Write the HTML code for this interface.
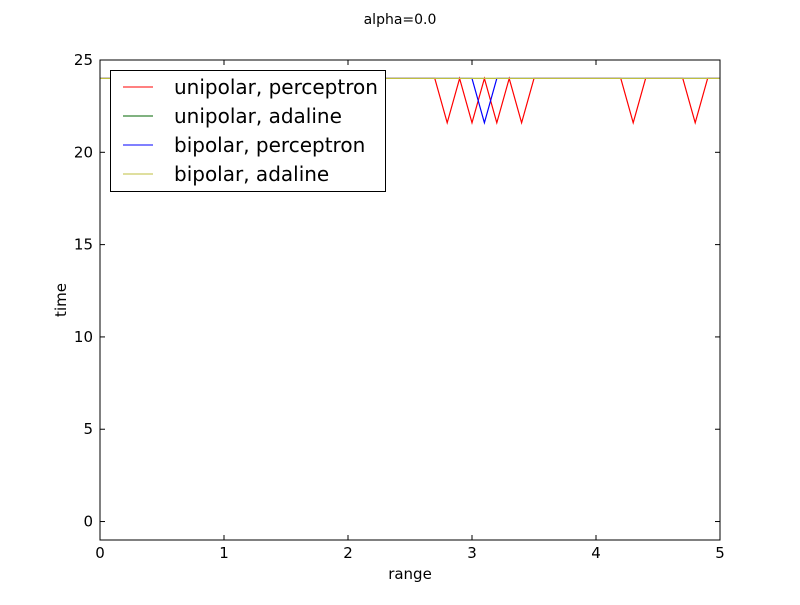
<!DOCTYPE html>
<html><head><meta charset="utf-8"><style>
body{margin:0;background:#fff;}
svg text{font-family:"DejaVu Sans","Liberation Sans",sans-serif;}
</style></head><body>
<svg id="chart" width="800" height="600" xmlns="http://www.w3.org/2000/svg">
<rect width="800" height="600" fill="#fff"/>
<text x="400" y="24" font-size="14" text-anchor="middle">alpha=0.0</text>
<g id="series"></g>
<rect x="100" y="60" width="620" height="480" fill="none" stroke="#000" stroke-width="1"/>
<g id="ticks"></g>
<text x="410" y="579" font-size="15" text-anchor="middle">range</text>
<text transform="translate(66,300) rotate(-90)" font-size="15" text-anchor="middle">time</text>
<g>
<rect x="110.5" y="70.5" width="275" height="121" fill="#fff" stroke="#000"/>
<g><line x1="123" y1="87" x2="153" y2="87" stroke="red"/><text x="174" y="94" font-size="20">unipolar, perceptron</text></g>
<g><line x1="123" y1="116" x2="153" y2="116" stroke="#006400"/><text x="174" y="123" font-size="20">unipolar, adaline</text></g>
<g><line x1="123" y1="145" x2="153" y2="145" stroke="blue"/><text x="174" y="152" font-size="20">bipolar, perceptron</text></g>
<g><line x1="123" y1="174" x2="153" y2="174" stroke="#bfbf3f"/><text x="174" y="181" font-size="20">bipolar, adaline</text></g>
</g>
</svg>
<script>
const xs = [0,0.1,0.2,0.3,0.4,0.5,0.6,0.7,0.8,0.9,1.0,1.1,1.2,1.3,1.4,1.5,1.6,1.7,1.8,1.9,2.0,2.1,2.2,2.3,2.4,2.5,2.6,2.7,2.8,2.9,3.0,3.1,3.2,3.3,3.4,3.5,3.6,3.7,3.8,3.9,4.0,4.1,4.2,4.3,4.4,4.5,4.6,4.7,4.8,4.9,5.0];
const unipolarPerceptron = [24,24,24,24,24,24,24,24,24,24,24,24,24,24,24,24,24,24,24,24,24,24,24,24,24,24,24,24,21.6,24,21.6,24,21.6,24,21.6,24,24,24,24,24,24,24,24,21.6,24,24,24,24,21.6,24,24];
const unipolarAdaline = [24,24,24,24,24,24,24,24,24,24,24,24,24,24,24,24,24,24,24,24,24,24,24,24,24,24,24,24,24,24,24,24,24,24,24,24,24,24,24,24,24,24,24,24,24,24,24,24,24,24,24];
const bipolarPerceptron = [24,24,24,24,24,24,24,24,24,24,24,24,24,24,24,24,24,24,24,24,24,24,24,24,24,24,24,24,24,24,24,21.6,24,24,24,24,24,24,24,24,24,24,24,24,24,24,24,24,24,24,24];
const bipolarAdaline = [24,24,24,24,24,24,24,24,24,24,24,24,24,24,24,24,24,24,24,24,24,24,24,24,24,24,24,24,24,24,24,24,24,24,24,24,24,24,24,24,24,24,24,24,24,24,24,24,24,24,24];
const xTicks = [0,1,2,3,4,5];
const yTicks = [0,5,10,15,20,25];

const NS="http://www.w3.org/2000/svg";
const X=v=>100+(v-0)/5*620;
const Y=v=>540-(v+1)/26*480;
const sg=document.getElementById('series');
function line(vals,color,name){
  const p=document.createElementNS(NS,'polyline');
  p.setAttribute('points',vals.map((v,i)=>X(xs[i])+','+Y(v)).join(' '));
  p.setAttribute('fill','none');p.setAttribute('stroke',color);p.setAttribute('stroke-width','1.2');
  
  
  sg.appendChild(p);
}
line(unipolarPerceptron,'red','series-unipolar-perceptron');
line(unipolarAdaline,'#006400','series-unipolar-adaline');
line(bipolarPerceptron,'blue','series-bipolar-perceptron');
line(bipolarAdaline,'#bfbf3f','series-bipolar-adaline');
const tg=document.getElementById('ticks');
function mk(tag,attrs){const e=document.createElementNS(NS,tag);for(const k in attrs)e.setAttribute(k,attrs[k]);tg.appendChild(e);return e;}
xTicks.forEach(t=>{
  const x=X(t);
  mk('line',{x1:x,y1:540,x2:x,y2:535,stroke:'#000'});
  mk('line',{x1:x,y1:60,x2:x,y2:65,stroke:'#000'});
  const tx=mk('text',{x:x,y:558,'font-size':15,'text-anchor':'middle'});tx.textContent=t;
  
  
});
yTicks.forEach(t=>{
  const y=Y(t);
  mk('line',{x1:100,y1:y,x2:105,y2:y,stroke:'#000'});
  mk('line',{x1:720,y1:y,x2:715,y2:y,stroke:'#000'});
  const tx=mk('text',{x:93,y:y+5,'font-size':15,'text-anchor':'end'});tx.textContent=t;
  
  
});
</script>
</body></html>
